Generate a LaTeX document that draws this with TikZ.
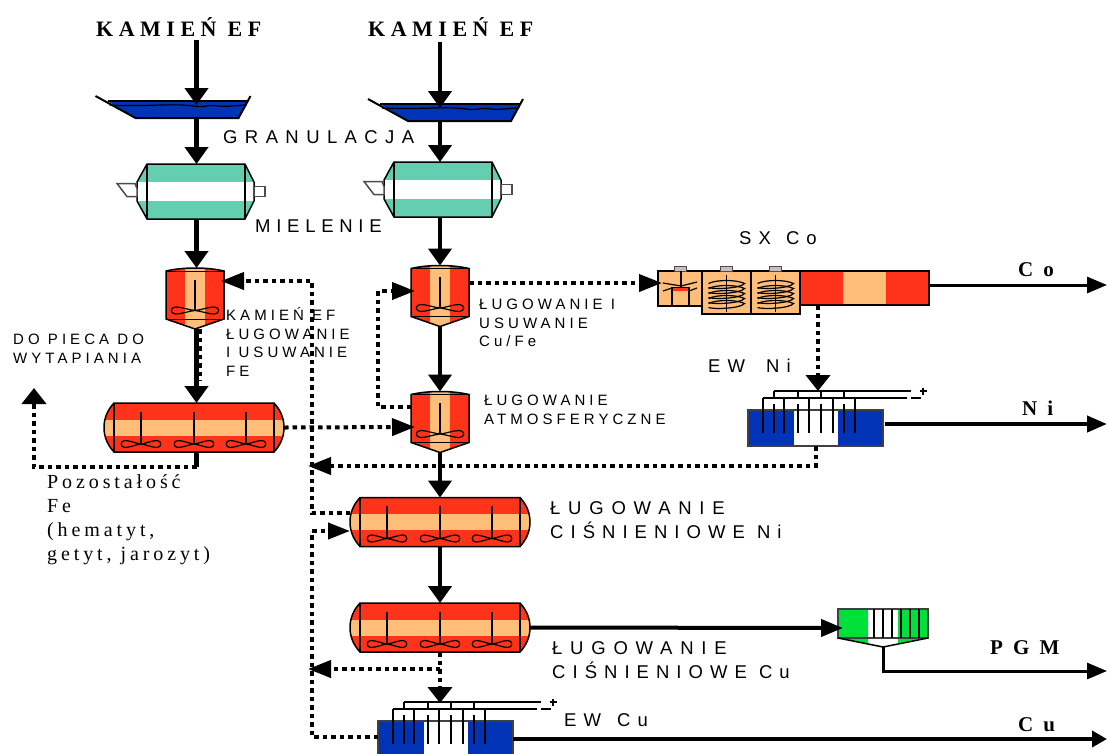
\documentclass[tikz,border=0pt]{standalone}
\usepackage{xcolor}
\usepackage{fontspec}
\usepackage{tikz}
\usetikzlibrary{arrows.meta, calc}
\setmainfont{Liberation Sans}
\newfontfamily\serifwide[LetterSpace=25]{Liberation Serif}
\newfontfamily\serifprod[LetterSpace=48]{Liberation Serif}
\newfontfamily\serifwider[LetterSpace=19.5]{Liberation Serif}
\newfontfamily\sanswide[LetterSpace=38]{Liberation Sans}
\newfontfamily\sansmid[LetterSpace=27]{Liberation Sans}
\definecolor{vesselred}{HTML}{FF3319}
\definecolor{vesselorange}{HTML}{FFBD7A}
\definecolor{bathblue}{HTML}{0033B5}
\definecolor{milltint}{HTML}{63CFB0}
\definecolor{filtergreen}{HTML}{00E03A}
\definecolor{capgray}{HTML}{C8BEBE}
\tikzstyle{shell} = [rectangle, inner sep=0pt, outer sep=0pt, line width=1.5pt]
\tikzstyle{flowdown} = [line width=4.5pt, -{Triangle[length=17pt,width=23pt]}]
\tikzstyle{flowright} = [line width=4pt, -{Triangle[length=22pt,width=17pt]}]
\tikzstyle{outflow} = [line width=3pt, -{Triangle[length=20pt,width=16pt]}]
\tikzstyle{pipe} = [line width=4.5pt]
\tikzstyle{recycleh} = [line width=4pt, dash pattern=on 4.5pt off 4pt, -{Triangle[length=23pt,width=17pt]}]
\tikzstyle{recyclev} = [line width=4pt, dash pattern=on 4.5pt off 4pt, -{Triangle[length=16pt,width=24pt]}]
\tikzstyle{recycle} = [line width=4pt, dash pattern=on 4.5pt off 4pt]
\tikzstyle{feedlabel} = [inner sep=0pt, anchor=west, font=\serifwide\bfseries\fontsize{22}{24}\selectfont]
\tikzstyle{prodlabel} = [inner sep=0pt, anchor=west, font=\serifprod\bfseries\fontsize{21}{22}\selectfont]
\tikzstyle{steplabel} = [inner sep=0pt, anchor=west, align=left, font=\sanswide\fontsize{18.5}{24}\selectfont]
\tikzstyle{smalllabel} = [inner sep=0pt, anchor=west, align=left, font=\sansmid\fontsize{15}{18.5}\selectfont]
\tikzstyle{residue} = [inner sep=0pt, anchor=north west, align=left, font=\serifwider\fontsize{20}{24}\selectfont]
% stirrer blades around the given point
\newcommand{\blades}[3]{
  \begin{scope}[shift={(#1,#2)}, xscale=#3, line width=1.2pt]
    \foreach \side in {-1,1}
      \draw[xscale=\side] (0,0) .. controls (5,-0.5) and (11,-3.5) .. (16,-3.5) .. controls (21,-3.5) and (21,3.5) .. (16,3.5) .. controls (11,3.5) and (5,0.5) .. (0,0);
  \end{scope}
}
\newcommand{\bath}[3]{
  \node (#1) [shell, minimum width=155pt, minimum height=26pt] at (#2,#3) {};
  \begin{scope}[shift={(#2,#3)}]
    \fill[bathblue] (-66,-4) -- (-38,13) -- (65,13) -- (74,-4) -- cycle;
    \draw[line width=1.2pt] (-66,-4) -- (74,-4);
    \draw[line width=1.2pt] (-64,0) .. controls (-30,2) and (0,-2) .. (20,1) .. controls (30,3) and (35,-1) .. (45,1) .. controls (55,2) and (65,0) .. (73,0);
    \draw[line width=2pt] (-78,-9) -- (-38,13) -- (65,13) -- (77,-9);
  \end{scope}
}
\newcommand{\mill}[3]{
  \node (#1) [shell, minimum width=98pt, minimum height=55pt] at (#2,#3) {};
  \begin{scope}[shift={(#2,#3)}]
    \begin{scope}
      \clip (-59,-9.5) -- (-49,-27.5) -- (49,-27.5) -- (58,-9.5) -- (58,9.5) -- (49,27.5) -- (-49,27.5) -- (-59,9.5) -- cycle;
      \fill[milltint] (-60,-27.5) rectangle (60,-9.5);
      \fill[milltint] (-60,9.5) rectangle (60,27.5);
    \end{scope}
    \draw[line width=1.5pt] (-59,-9.5) -- (-49,-27.5) -- (49,-27.5) -- (58,-9.5) -- (58,9.5) -- (49,27.5) -- (-49,27.5) -- (-59,9.5) -- cycle;
    \draw[line width=2pt] (-49,-27.5) -- (-49,27.5) (49,-27.5) -- (49,27.5);
    \draw[line width=1.5pt, black!70, fill=white] (-79,-8) -- (-61,-8) -- (-59,-3) -- (-59,5) -- (-69,5) -- cycle;
    \draw[line width=1.5pt, black!70, fill=white] (58,-5) rectangle (69,5);
  \end{scope}
}
\newcommand{\reactor}[3]{
  \node (#1) [shell, minimum width=58pt, minimum height=61pt] at (#2,#3) {};
  \begin{scope}[shift={(#2,#3)}]
    \begin{scope}
      \clip (-29,-27.5) .. controls (-12,-31.5) and (12,-31.5) .. (29,-27.5) -- (29,20.5) -- (0,30.5) -- (-29,20.5) -- cycle;
      \fill[vesselred] (-30,-32) rectangle (30,31);
      \fill[vesselorange] (-10,-32) rectangle (10,31);
    \end{scope}
    \draw[line width=1.5pt] (-29,-27.5) .. controls (-12,-31.5) and (12,-31.5) .. (29,-27.5) -- (29,20.5) -- (0,30.5) -- (-29,20.5) -- cycle;
    \draw[line width=1pt] (-29,-27.5) -- (29,-27.5) (-29,20.5) -- (29,20.5);
    \draw[line width=1.5pt] (0,-19) -- (0,12);
    \blades{0}{12}{1.2}
  \end{scope}
}
\newcommand{\autoclave}[3]{
  \node (#1) [shell, minimum width=180pt, minimum height=49pt] at (#2,#3) {};
  \begin{scope}[shift={(#2,#3)}]
    \begin{scope}
      \clip (-80,-24.5) .. controls (-86,-18) and (-90,-10) .. (-90,0) .. controls (-90,10) and (-86,18) .. (-80,24.5) -- (80,24.5) .. controls (86,18) and (90,10) .. (90,0) .. controls (90,-10) and (86,-18) .. (80,-24.5) -- cycle;
      \fill[vesselred] (-91,-25) rectangle (91,25);
      \fill[vesselorange] (-91,-8) rectangle (91,8);
    \end{scope}
    \draw[line width=1.5pt] (-80,-24.5) .. controls (-86,-18) and (-90,-10) .. (-90,0) .. controls (-90,10) and (-86,18) .. (-80,24.5) -- (80,24.5) .. controls (86,18) and (90,10) .. (90,0) .. controls (90,-10) and (86,-18) .. (80,-24.5) -- cycle;
    \draw[line width=1.5pt] (-80,-24.5) -- (-80,24.5) (80,-24.5) -- (80,24.5);
    \foreach \bladex in {-53,0,52} {
      \draw[line width=1.8pt] (\bladex,-16) -- (\bladex,16);
      \blades{\bladex}{16.5}{1}
    }
  \end{scope}
}
\newcommand{\ewcell}[3]{
  \node (#1) [shell, minimum width=135pt, minimum height=36pt] at (#2,#3) {};
  \begin{scope}[shift={(#2,#3)}]
    \fill[bathblue] (-67.5,-18) rectangle (-21.5,18);
    \fill[bathblue] (22.5,-18) rectangle (67.5,18);
    \draw[line width=1.5pt, black!75] (-67.5,-18) rectangle (67.5,18);
    \draw[line width=1.5pt] (-41.5,-37) -- (95.5,-37) (-52.5,-30) -- (91.5,-30);
    \foreach \barx in {-41.5,-17.5,5.5,28.5}
      \draw[line width=1.5pt] (\barx,-37) -- (\barx,-30);
    \foreach \barx/\barw in {-52.5/2.5,-31.5/2.5,-6.5/1.5,17.5/1.5,39.5/2.5}
      \draw[line width=\barw pt] (\barx,-30) -- (\barx,5);
    \foreach \barx/\barw in {-41.5/2.5,-17.5/1.5,5.5/2,28.5/2.5}
      \draw[line width=\barw pt] (\barx,-24) -- (\barx,5);
    \draw[line width=1.5pt] (95.5,-30) -- (105.5,-30);
    \draw[line width=1.5pt] (104,-37) -- (111,-37) (107.5,-40.5) -- (107.5,-33.5);
  \end{scope}
}
\newcommand{\coil}[2]{
  \begin{scope}[shift={(#1,#2)}, line width=1.2pt]
    \foreach \turny in {-9,-4,1,6,11}
      \draw (-18,\turny) .. controls (-10,\turny-4) and (10,\turny-4) .. (18,\turny) .. controls (14,\turny+5) and (-12,\turny+6) .. (-18,\turny+4);
    \draw[line width=1.5pt] (0,-18) -- (0,19);
    \fill[capgray, draw=black!70, line width=1pt] (-6,-26.5) rectangle (6,-21.5);
  \end{scope}
}
\begin{document}
\begin{tikzpicture}[x=1pt, y=-1pt]
    \useasboundingbox (0,0) rectangle (1107,753);
    % feed columns
    \coordinate (pipeA) at (196.5,0);
    \coordinate (pipeB) at (440,0);
    \node (feedA) [feedlabel] at (96,27) {KAMIEŃ EF};
    \node (feedB) [feedlabel] at (368,27) {KAMIEŃ EF};
    \bath{bathA}{173.5}{105}
    \bath{bathB}{446}{108}
    \mill{millA}{196}{191.5}
    \mill{millB}{443}{189.5}
    \reactor{reactorA}{195}{298.5}
    \reactor{reactorB}{440}{296}
    \reactor{reactorC}{440}{422}
    \autoclave{autoA}{194}{427.5}
    \autoclave{autoB}{440}{522}
    \autoclave{autoC}{440}{627.5}

    % cobalt extraction
    \node (mixA) [shell, draw, fill=vesselorange, minimum width=44pt, minimum height=35pt] at (680,288.5) {};
    \node (mixB) [shell, draw, fill=vesselorange, minimum width=49pt, minimum height=43pt] at (726.5,292.5) {};
    \node (mixC) [shell, draw, fill=vesselorange, minimum width=49pt, minimum height=43pt] at (775.5,292.5) {};
    \node (settler) [shell, draw, fill=vesselorange, minimum width=129pt, minimum height=34pt] at (864.5,288) {};
    \fill[vesselred] (801,272) rectangle (843,304) (886,272) rectangle (928,304);
    \fill[capgray, draw=black!70, line width=1pt] (674,266) rectangle (686,271);
    \draw[line width=1.5pt] (681,271) -- (681,287);
    \draw[line width=1.5pt, fill=vesselorange] (672,288) rectangle (689,306);
    \fill[vesselred] (673,288) rectangle (688,291);
    \draw[line width=1.2pt] (663,283) -- (681,286) -- (697,282) (663,291) -- (672,288) (697,288) -- (689,291);
    \coil{726.5}{292.5}
    \coil{775.5}{292.5}

    \ewcell{ewNi}{815.5}{428}
    \ewcell{ewCu}{445.5}{739}

    % precious metals filter
    \node (filterA) [shell, minimum width=90pt, minimum height=38pt] at (883,628) {};
    \fill[filtergreen] (838,609) rectangle (868,638) (898,609) rectangle (928,638);
    \fill[filtergreen] (838,638) -- (868,644) -- (868,638) -- cycle (928,638) -- (898,644) -- (898,638) -- cycle;
    \draw[line width=1.5pt, black!75] (838,609) rectangle (928,638);
    \draw[line width=1.5pt] (838,638) -- (883,647) -- (928,638);
    \foreach \platex in {874,883,892,901,910,919}
      \draw[line width=2pt] (\platex,609) -- (\platex,638);

    % end points of the lines
    \coordinate (startA) at (196.5,40);
    \coordinate (startB) at (440,42);
    \coordinate (bendFe) at (196.5,467);
    \coordinate (upFe) at (34,388);
    \coordinate (outCo) at (1107,285);
    \coordinate (outNi) at (1107,424);
    \coordinate (outPgm) at (1107,671);
    \coordinate (outCu) at (1107,740);
    \coordinate (turnTop) at (312,281);
    \coordinate (turnLow) at (312,737);
    \coordinate (turnMid) at (312,531);
    \coordinate (joinNi) at (308,466);
    \coordinate (joinCu) at (308,669);
    \coordinate (splitCu) at (440,669);
    \coordinate (busNi) at (818,391);
    \coordinate (busCu) at (440,703);

    % main flow
    \draw[flowdown] (startA) -- (bathA.center -| pipeA);
    \draw[flowdown] (bathA.south -| pipeA) -- (millA.north -| pipeA);
    \draw[flowdown] (millA.south -| pipeA) -- (reactorA.north -| pipeA);
    \draw[flowdown] (reactorA.south -| pipeA) -- (autoA.north -| pipeA);
    \draw[pipe] (autoA.south -| pipeA) -- (bendFe);
    \draw[flowdown] (startB) -- (bathB.center -| pipeB);
    \draw[flowdown] (bathB.south -| pipeB) -- (millB.north -| pipeB);
    \draw[flowdown] (millB.south -| pipeB) -- (reactorB.north -| pipeB);
    \draw[flowdown] (reactorB.south) -- (reactorC.north);
    \draw[flowdown] (reactorC.south) -- (autoB.north);
    \draw[flowdown] (autoB.south) -- (autoC.north);
    \draw[flowright] (autoC.east) -- ($(filterA.west)+(5,0)$);

    % products
    \draw[outflow] ($(settler.east)+(0,-3)$) -- (outCo);
    \draw[line width=4pt, -{Triangle[length=20pt,width=16pt]}] ($(ewNi.east)+(2,-4)$) -- (outNi);
    \draw[line width=3pt, -{Triangle[length=20pt,width=16pt]}] (filterA.south) |- (outPgm);
    \draw[line width=4pt, -{Triangle[length=15pt,width=16pt]}] (ewCu.east) -- (ewCu.east -| outCu);

    % recycle lines
    \draw[recycle] ($(reactorA.south)+(5,0)$) -- ($(reactorA.south)+(5,52)$);
    \draw[recyclev] (bendFe) -| (upFe);
    \draw[recycleh] ($(autoB.west)+(0,-9)$) -| (turnTop) -- ($(reactorA.east)+(-3,-17.5)$);
    \draw[recycle] (ewCu.west |- turnLow) -- (turnLow) -- (turnMid);
    \draw[line width=4pt, dash pattern=on 4.5pt off 4pt, -{Triangle[length=22pt,width=16pt]}] (turnMid) -- ($(autoB.west)+(0,9)$);
    \draw[recycleh] (autoA.east) -- ($(reactorC.west)+(4,5)$);
    \draw[recycleh] ($(reactorC.west)+(0,-15)$) -| (378,291) -- ($(reactorB.west)+(4,-5)$);
    \draw[recycleh] ($(reactorB.east)+(0,-13)$) -- ($(mixA.west)+(4,-5.5)$);
    \draw[recyclev] (settler.south -| busNi) -- (busNi);
    \draw[recycleh] (ewNi.south) |- (joinNi);
    \draw[recycleh] (autoC.south) -- (splitCu) -- (joinCu);
    \draw[recyclev] (splitCu) -- (busCu);

    % labels
    \node (granulation) [steplabel] at (223,137) {\addfontfeature{LetterSpace=40}GRANULACJA};
    \node (milling) [steplabel] at (255,226) {\addfontfeature{LetterSpace=31}MIELENIE};
    \node (toFurnace) [smalllabel] at (13,349) {DO PIECA DO\\WYTAPIANIA};
    \node (leachFe) [smalllabel] at (226,342) {KAMIEŃ EF\\ŁUGOWANIE\\I USUWANIE\\FE};
    \node (leachCu) [smalllabel] at (479,323) {ŁUGOWANIE I\\USUWANIE\\Cu/Fe};
    \node (leachAtm) [smalllabel] at (484,410) {ŁUGOWANIE\\ATMOSFERYCZNE};
    \node (residue) [residue] at (47,474) {Pozostałość\\Fe\\(hematyt,\\getyt, jarozyt)};
    \node (leachNi) [steplabel] at (550,520) {\addfontfeature{LetterSpace=42}ŁUGOWANIE\\CIŚNIENIOWE Ni};
    \node (leachCuP) [steplabel] at (552,660.5) {\addfontfeature{LetterSpace=42}ŁUGOWANIE\\CIŚNIENIOWE Cu};
    \node (sxLabel) [steplabel] at (739,238) {SX\hspace{3pt} Co};
    \node (ewNiLabel) [steplabel] at (708,366) {EW\hspace{9pt} Ni};
    \node (ewCuLabel) [steplabel] at (564,720) {EW\hspace{4pt} Cu};
    \node (coLabel) [prodlabel] at (1018,270) {Co};
    \node (niLabel) [prodlabel] at (1022,408) {Ni};
    \node (pgmLabel) [prodlabel] at (990,648) {PGM};
    \node (cuLabel) [prodlabel] at (1018,725) {Cu};
  \end{tikzpicture}
\end{document}
